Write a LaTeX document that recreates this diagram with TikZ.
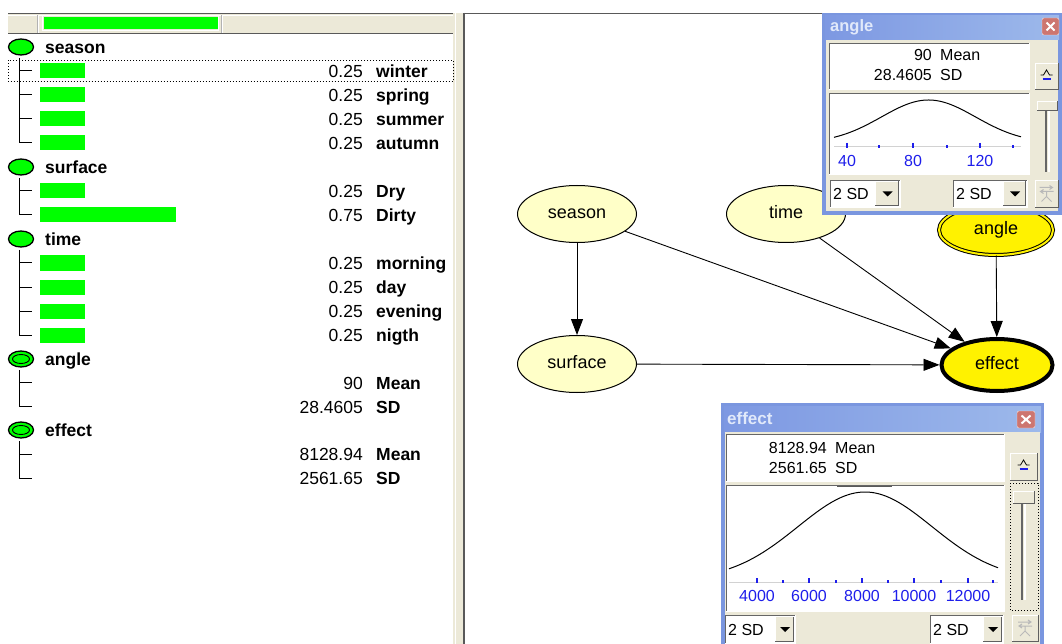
\documentclass[tikz,border=0pt]{standalone}
\usepackage{fontspec}
\setmainfont{Liberation Sans}
\usetikzlibrary{shapes.geometric,arrows.meta}
\definecolor{xpbeige}{RGB}{236,233,216}
\definecolor{xpblue}{RGB}{122,150,223}
\definecolor{xptitleL}{RGB}{125,152,226}
\definecolor{xptitleR}{RGB}{157,185,235}
\definecolor{paleyel}{RGB}{255,255,200}
\definecolor{gbar}{RGB}{0,255,0}
\definecolor{closered}{RGB}{205,118,112}
\definecolor{axisblue}{RGB}{30,30,235}
\definecolor{titletxt}{RGB}{225,233,250}
\newcommand{\ftree}{\fontsize{17.5}{20}\selectfont}
\newcommand{\fnet}{\fontsize{18}{20}\selectfont}
\newcommand{\fwin}{\fontsize{16}{18}\selectfont}
\newcommand{\xpraised}[4]{%
  \fill[xpbeige] (#1,#2) rectangle (#3,#4);
  \draw[white] (#1,#4) -- (#1,#2) -- (#3,#2);
  \draw[gray!75!black] (#1,#4) -- (#3,#4) -- (#3,#2);}
\newcommand{\xpsunken}[5]{%
  \fill[#5] (#1,#2) rectangle (#3,#4);
  \draw[gray!80!black] (#1,#4) -- (#1,#2) -- (#3,#2);
  \draw[white] (#3,#2) -- (#3,#4) -- (#1,#4);}
\newcommand{\xpdrop}[5]{%
  \xpsunken{#1}{#2}{#4}{#5}{white}
  \xpraised{#3}{#2+1.5}{#4-1.5}{#5-1.5}
  \fill ({(#3+#4)/2-5},{(#2+#5)/2-2}) -- ++(10,0) -- ++(-5,5) -- cycle;
  \node[wtxt, anchor=base west] at (#1+3,#5-7.5) {2 SD};}
\newcommand{\xpcaret}[2]{%
  \draw[line width=0.8pt] (#1-6,#2+1) -- (#1-3,#2+1) -- (#1,#2-4) -- (#1+3,#2+1) -- (#1+6,#2+1);
  \draw[axisblue, line width=1.4pt] (#1-4,#2+5) -- (#1+4,#2+5);}
\newcommand{\xpglyph}[2]{%
  \draw[gray!55, line width=1pt] (#1-7,#2-6) -- (#1+6,#2-6) (#1+3,#2-8) -- (#1+6,#2-6) -- (#1+3,#2-4)
    (#1+7,#2-2) -- (#1-6,#2-2) (#1-3,#2-4) -- (#1-6,#2-2) -- (#1-3,#2)
    (#1,#2-2) -- (#1,#2+3) -- (#1-5,#2+8) (#1,#2+3) -- (#1+5,#2+8);}
\newcommand{\xpclose}[4]{%
  \fill[closered, rounded corners=2pt] (#1,#2) rectangle (#3,#4);
  \draw[white!80!closered, rounded corners=2pt] (#1,#2) rectangle (#3,#4);
  \draw[white, line width=2pt] (#1+4.5,#2+4.5) -- (#3-4.5,#4-4.5) (#1+4.5,#4-4.5) -- (#3-4.5,#2+4.5);}
\begin{document}
\begin{tikzpicture}[x=1pt,y=-1pt,
  tlab/.style={anchor=base west, inner sep=0pt, font=\ftree\bfseries},
  tnum/.style={anchor=base east, inner sep=0pt, font=\ftree},
  icon/.style={ellipse, draw, line width=1.3pt, fill=gbar, minimum width=25pt, minimum height=16pt, inner sep=0pt},
  bn/.style={ellipse, draw, line width=1pt, fill=paleyel, minimum width=119pt, minimum height=57pt, inner sep=0pt, font=\fnet, text height=9pt, text depth=0pt},
  edge/.style={line width=0.9pt, -{Triangle[length=16pt,width=12pt]}},
  wtxt/.style={inner sep=0pt, font=\fwin},
  axl/.style={anchor=base, inner sep=0pt, font=\fwin, text=axisblue},
  tree/.style={line width=1pt}]
\useasboundingbox (0,0) rectangle (1062,644);
\fill[white] (0,0) rectangle (1062,644);

% ---------- left panel header ----------
\fill[xpbeige] (8,13) rectangle (453,34);
\draw[gray!70!black, line width=1.2pt] (8,13.6) -- (453,13.6);
\draw[gray!70!black, line width=1.2pt] (8,33.4) -- (453,33.4);
\draw[white] (8,15) -- (453,15);
\draw[gray!60] (37,15) -- (37,33);
\draw[white] (38.5,15) -- (38.5,33);
\draw[gray!60] (221,15) -- (221,33);
\draw[white] (222.5,15) -- (222.5,33);
\draw[white, line width=1pt] (42.5,15.8) rectangle (218.5,30.2);
\fill[gbar] (43.5,17) rectangle (217.5,29);

% ---------- divider ----------
\fill[xpbeige] (453,13) rectangle (465,644);
\draw[white] (455.5,13) -- (455.5,644);
\draw[gray!70!black, line width=1.5pt] (463.8,13) -- (463.8,644);
\draw[gray!70!black, line width=1.2pt] (465,13.6) -- (1062,13.6);

% ---------- tree ----------
\foreach \y/\n in {47/season,167/surface,239/time}{
  \node[icon] (ic-\n) at (21,\y) {};
  \node[tlab] (lb-\n) at (45,\y+6.5) {\n};}
\foreach \y/\n in {359/angle,430/effect}{
  \node[icon] (ic-\n) at (21,\y) {};
  \draw[line width=0.9pt] (21,\y) ellipse (8.5pt and 4.5pt);
  \node[tlab] (lb-\n) at (45,\y+6.5) {\n};}

\draw[tree] (19,58) -- (19,143) -- (32,143);
\draw[tree] (19,178) -- (19,215) -- (32,215);
\draw[tree] (19,250) -- (19,335) -- (32,335);
\draw[tree] (19,370) -- (19,406.5) -- (32,406.5);
\draw[tree] (19,441) -- (19,478) -- (32,478);
\foreach \y in {71,95,119,191,263,287,311,382.5,454}{
  \draw[tree] (19,\y) -- (32,\y);}

\foreach \y/\v/\l [count=\i] in {71/0.25/winter,95/0.25/spring,119/0.25/summer,143/0.25/autumn,
   191/0.25/Dry,263/0.25/morning,287/0.25/day,311/0.25/evening,335/0.25/nigth}{
  \fill[gbar] (40,\y-7.5) rectangle (85,\y+7.5);
  \node[tnum] (v\i) at (363,\y+6.5) {\v};
  \node[tlab] (s\i) at (376,\y+6.5) {\l};}
\fill[gbar] (40,207.5) rectangle (176,222.5);
\node[tnum] (vdirty) at (363,221.5) {0.75};
\node[tlab] (sdirty) at (376,221.5) {Dirty};
\foreach \y/\v/\l [count=\i] in {382.5/90/Mean,406.5/28.4605/SD,454/8128.94/Mean,478/2561.65/SD}{
  \node[tnum] (cv\i) at (363,\y+6.5) {\v};
  \node[tlab] (cs\i) at (376,\y+6.5) {\l};}
\draw[dotted, line width=1pt] (8,60.5) rectangle (453,82);

% ---------- network ----------
\node[bn] (season) at (577,214) {season};
\node[bn] (time) at (786,214) {time};
\node[bn] (surface) at (577,364) {surface};
\node[bn, fill=yellow, minimum width=114pt, minimum height=50pt, double=yellow, double distance=2pt] (angle) at (996,230) {angle};
\node[bn, fill=yellow, line width=4pt, minimum width=111pt, minimum height=52pt] (effect) at (997,365) {effect};
\draw[edge] (season) -- (surface);
\draw[edge] (season) -- (effect);
\draw[edge] (time) -- (effect);
\draw[edge] (angle) -- (effect);
\draw[edge] (surface) -- (effect);

% ---------- angle window ----------
\fill[xpblue] (822,13) rectangle (1062,215);
\shade[left color=xptitleL, right color=xptitleR] (825,16) rectangle (1059,40);
\fill[xpbeige] (826,40) rectangle (1058,211);
\node[wtxt, anchor=base west, font=\fontsize{16.5}{18}\selectfont\bfseries, text=titletxt] (angtitle) at (830,32) {angle};
\xpclose{1042}{18}{1059}{35}
\xpsunken{829}{43}{1029}{89}{white}
\node[wtxt, anchor=base east] (am1) at (932,61) {90};
\node[wtxt, anchor=base west] (am2) at (940,61) {Mean};
\node[wtxt, anchor=base east] (as1) at (932,81) {28.4605};
\node[wtxt, anchor=base west] (as2) at (940,81) {SD};
\xpsunken{829}{93}{1029}{174}{white}
\draw[gray!35, line width=1pt] (834,147) -- (1021,147);
\draw[line width=1pt] plot[domain=834:1021, samples=70, smooth] (\x,{143-43*exp(-0.5*((\x-928.5)/47)*((\x-928.5)/47))});
\foreach \t in {847,913,980}{\draw[axisblue, line width=1.3pt] (\t,143) -- (\t,148);}
\foreach \t in {879,947,1013}{\draw[axisblue, line width=1.3pt] (\t,145.5) -- (\t,148);}
\node[axl] (a40) at (847,167) {40};
\node[axl] (a80) at (913,167) {80};
\node[axl] (a120) at (980,167) {120};
\xpdrop{830}{180}{875}{900}{207}
\xpdrop{953}{180}{1003}{1027}{207}
\xpraised{1035}{63}{1058}{89}
\xpcaret{1046.5}{74}
\draw[gray!80!black, line width=1.2pt] (1046,108) -- (1046,172);
\draw[white, line width=1.2pt] (1049,108) -- (1049,172);
\xpraised{1037}{101}{1057}{110}
\xpraised{1035}{180}{1058}{207}
\xpglyph{1046.5}{193.5}

% ---------- effect window ----------
\fill[xpblue] (721,403) rectangle (1044,644);
\shade[left color=xptitleL, right color=xptitleR] (724,406) rectangle (1041,432);
\fill[xpbeige] (725,432) rectangle (1040,644);
\node[wtxt, anchor=base west, font=\fontsize{17}{18}\selectfont\bfseries, text=titletxt] (efftitle) at (727,424) {effect};
\xpclose{1017}{411}{1035}{428}
\xpsunken{726}{434}{1004}{481}{white}
\node[wtxt, anchor=base east] (em1) at (827,453) {8128.94};
\node[wtxt, anchor=base west] (em2) at (835,453) {Mean};
\node[wtxt, anchor=base east] (es1) at (827,473) {2561.65};
\node[wtxt, anchor=base west] (es2) at (835,473) {SD};
\xpsunken{726}{485}{1004}{611}{white}
\draw[gray!70!black, line width=1.3pt] (837,486.5) -- (892,486.5);
\draw[gray!35, line width=1pt] (729,582) -- (998,582);
\draw[line width=1pt] plot[domain=729:998, samples=80, smooth] (\x,{580-88*exp(-0.5*((\x-865)/67)*((\x-865)/67))});
\foreach \t in {757,809,862,914,968}{\draw[axisblue, line width=1.3pt] (\t,578) -- (\t,582.5);}
\foreach \t in {783,836,888,941,993}{\draw[axisblue, line width=1.3pt] (\t,580) -- (\t,582.5);}
\node[axl] (e4) at (757,601) {4000};
\node[axl] (e6) at (809,601) {6000};
\node[axl] (e8) at (862,601) {8000};
\node[axl] (e10) at (914,601) {10000};
\node[axl] (e12) at (968,601) {12000};
\xpdrop{725}{615}{775}{795}{643}
\xpdrop{930}{615}{983}{1003}{643}
\xpraised{1010}{453}{1037}{480}
\xpcaret{1023.5}{464}
\draw[dotted, line width=1pt] (1010,483) rectangle (1038,610);
\draw[gray!80!black, line width=1.2pt] (1022,498) -- (1022,600);
\draw[white, line width=1.2pt] (1025,498) -- (1025,600);
\xpraised{1013}{491}{1034}{503}
\xpraised{1012}{615}{1038}{641}
\xpglyph{1025}{628}
\end{tikzpicture}
\end{document}
